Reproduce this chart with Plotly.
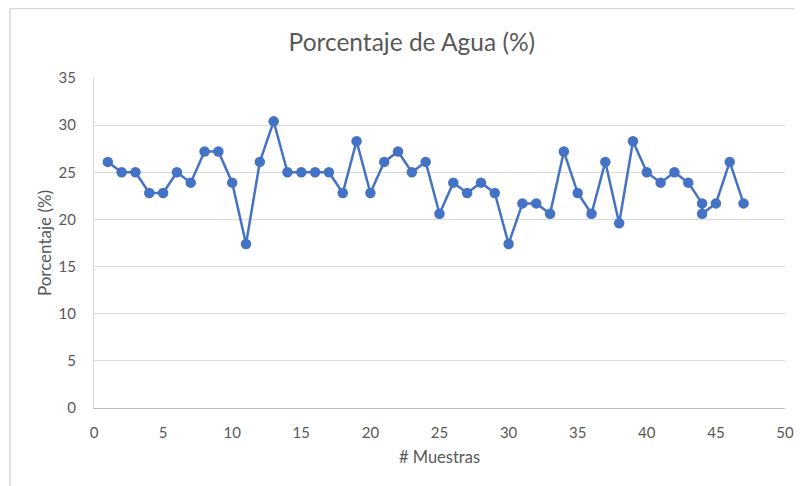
import plotly.graph_objects as go

muestras = [1, 2, 3, 4, 5, 6, 7, 8, 9, 10, 11, 12, 13, 14, 15, 16, 17, 18, 19, 20,
            21, 22, 23, 24, 25, 26, 27, 28, 29, 30, 31, 32, 33, 34, 35, 36, 37, 38, 39, 40,
            41, 42, 43, 44, 44, 45, 46, 47]
porcentaje = [26.1, 25.0, 25.0, 22.8, 22.8, 25.0, 23.9, 27.2, 27.2, 23.9,
              17.4, 26.1, 30.4, 25.0, 25.0, 25.0, 25.0, 22.8, 28.3, 22.8,
              26.1, 27.2, 25.0, 26.1, 20.6, 23.9, 22.8, 23.9, 22.8, 17.4,
              21.7, 21.7, 20.6, 27.2, 22.8, 20.6, 26.1, 19.6, 28.3, 25.0,
              23.9, 25.0, 23.9, 21.7, 20.6, 21.7, 26.1, 21.7]

title_text = "Porcentaje de Agua (%)"
x_title = "# Muestras"
y_title = "Porcentaje (%)"

font_family = "Lato, Carlito, 'Open Sans', sans-serif"
txt_color = "#595959"

fig = go.Figure()
fig.add_trace(go.Scatter(
    x=muestras, y=porcentaje, mode="lines+markers",
    line=dict(color="#4472C4", width=2.5),
    marker=dict(color="#4472C4", size=10.5),
    showlegend=False, hoverinfo="x+y",
))

fig.update_layout(
    width=795, height=478,
    margin=dict(l=86, r=18, t=70, b=78, autoexpand=False),
    paper_bgcolor="white", plot_bgcolor="white",
    font=dict(family=font_family, color=txt_color, size=13),
    title=dict(text=title_text, x=0.508, xanchor="center", y=0.929, yanchor="middle",
               automargin=False,
               font=dict(size=24.5, color=txt_color, family=font_family)),
    xaxis=dict(range=[0, 50], dtick=5, tick0=0, showgrid=False, zeroline=False,
               automargin=False,
               showline=True, linecolor="#BFBFBF", linewidth=1, ticks="",
               ticklabelstandoff=11, tickfont=dict(size=15, color=txt_color),
               title=dict(text=x_title, font=dict(size=16.5, color=txt_color), standoff=11)),
    yaxis=dict(range=[0, 35], dtick=5, tick0=0, showgrid=True, gridcolor="#D9D9D9", gridwidth=1,
               automargin=False,
               zeroline=False, showline=True, linecolor="#D9D9D9", linewidth=1, ticks="",
               ticklabelstandoff=14, tickfont=dict(size=15, color=txt_color),
               title=dict(text=y_title, font=dict(size=17, color=txt_color), standoff=2)),
    shapes=[dict(type="rect", xref="paper", yref="paper",
                 xsizemode="pixel", ysizemode="pixel", xanchor=0, yanchor=1,
                 x0=-84, x1=800, y0=-600, y1=69.5,
                 line=dict(color="#D9D9D9", width=1.5), fillcolor="rgba(0,0,0,0)",
                 layer="below")],
)

fig.write_html("out.html")
